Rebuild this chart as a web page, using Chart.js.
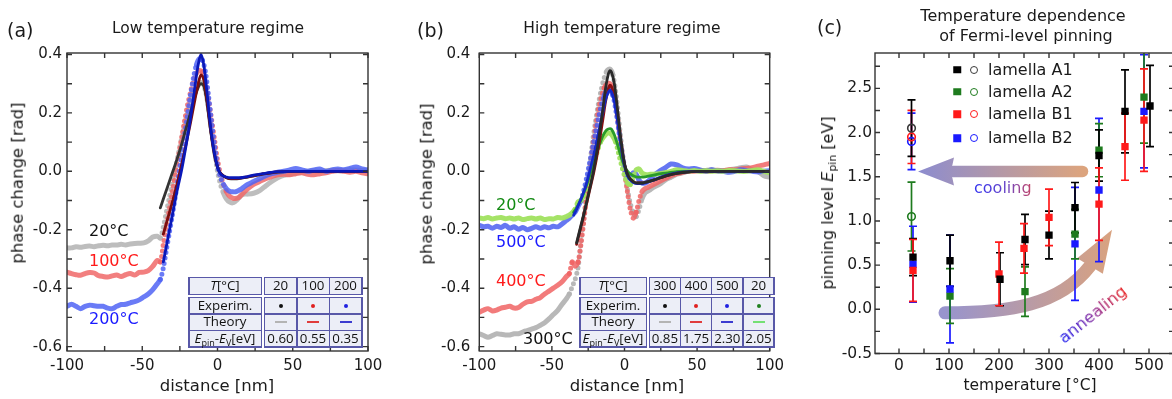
<!DOCTYPE html>
<html><head><meta charset="utf-8">
<script src="https://cdn.jsdelivr.net/npm/chart.js@4.4.1/dist/chart.umd.min.js"></script>
<style>
html,body{margin:0;padding:0;background:#fff;}
body{width:1172px;height:399px;overflow:hidden;position:relative;font-family:'DejaVu Sans',sans-serif;color:#1a1a1a;}
canvas{position:absolute;top:0;}
.t{position:absolute;white-space:nowrap;line-height:1;}
.c{transform:translate(-50%,-50%);}
.l{transform:translateY(-50%);}
.r{transform:translate(-50%,-50%) rotate(-90deg);}
sub{font-size:0.68em;vertical-align:-0.3em;line-height:0;}
.blk{position:absolute;display:grid;gap:1.5px;padding:1.5px;background:#5858a8;box-sizing:border-box;font-family:'Open Sans',sans-serif;font-size:13.3px;color:#111;}
.blk>div{background:#eceef7;display:flex;align-items:center;justify-content:center;line-height:1;white-space:nowrap;}
.dot{display:block;width:4px;height:4px;border-radius:50%;}
.dash{display:block;width:12px;height:2.5px;}
.sq{position:absolute;width:7.5px;height:7.5px;transform:translate(-50%,-50%);}
.ci{position:absolute;width:6px;height:6px;border:1.6px solid;border-radius:50%;transform:translate(-50%,-50%);}
</style></head>
<body>
<canvas id="cA" width="390" height="399" style="left:0px"></canvas>
<canvas id="cB" width="400" height="399" style="left:390px"></canvas>
<canvas id="cC" width="390" height="399" style="left:790px"></canvas>

<div class="t l" style="left:7px;top:30px;font-size:19px">(a)</div>
<div class="t c" style="left:208px;top:29px;font-size:15.5px">Low temperature regime</div>
<div class="t r" style="left:18px;top:183px;font-size:16.5px">phase change [rad]</div>
<div class="t c" style="left:217px;top:386px;font-size:16.5px">distance [nm]</div>

<div class="t l" style="left:417px;top:30px;font-size:19px">(b)</div>
<div class="t c" style="left:622px;top:29px;font-size:15.5px">High temperature regime</div>
<div class="t r" style="left:427px;top:184px;font-size:16.5px">phase change [rad]</div>
<div class="t c" style="left:627px;top:386px;font-size:16.5px">distance [nm]</div>

<div class="t l" style="left:817px;top:27px;font-size:19px">(c)</div>
<div class="t c" style="left:1023px;top:16px;font-size:16px">Temperature dependence</div>
<div class="t c" style="left:1026px;top:36px;font-size:16px">of Fermi-level pinning</div>
<div class="t r" style="left:828px;top:203px;font-size:16px">pinning level <i>E</i><sub>pin</sub> [eV]</div>
<div class="t c" style="left:1030px;top:386px;font-size:15.5px">temperature [°C]</div>

<div class="t l" style="left:89px;top:231px;font-size:16px;color:#111">20°C</div>
<div class="t l" style="left:89px;top:261px;font-size:16px;color:#ff1a1a">100°C</div>
<div class="t l" style="left:89px;top:319px;font-size:16px;color:#1a1aff">200°C</div>

<div class="t l" style="left:496px;top:205px;font-size:16px;color:#128a12">20°C</div>
<div class="t l" style="left:496px;top:242px;font-size:16px;color:#1a1aff">500°C</div>
<div class="t l" style="left:496px;top:281px;font-size:16px;color:#ff1a1a">400°C</div>
<div class="t l" style="left:523px;top:339px;font-size:16px;color:#111">300°C</div>

<div class="t l" style="left:974px;top:188px;font-size:16px;background:linear-gradient(90deg,#3030f0 0%,#6a48c8 55%,#c44466 100%);-webkit-background-clip:text;background-clip:text;color:transparent;">cooling</div>
<div class="t c" style="left:1093px;top:315px;font-size:16.5px;transform:translate(-50%,-50%) rotate(-38.5deg);background:linear-gradient(90deg,#2020f0,#8a30a0 50%,#e82020);-webkit-background-clip:text;background-clip:text;color:transparent;">annealing</div>

<script>
// ---------------- Panel (a) / (b) data ----------------
const xTicksAB = [-100, -50, 0, 50, 100];
const xMarksAB = [-100, -75, -50, -25, 0, 25, 50, 75, 100];
const yTicksAB = [-0.6, -0.4, -0.2, 0.0, 0.2, 0.4];
const yMarksAB = [-0.6, -0.5, -0.4, -0.3, -0.2, -0.1, 0, 0.1, 0.2, 0.3, 0.4];

// experimental x grid (nm)
const xe = [-100,-97,-94,-91,-88,-85,-82,-79,-76,-73,-70,-67,-64,-61,-58,-55,-52,-49,-46,-43,-40,
  -38,-36,-34,-32,-30,-28,-26,-24,-22,-20,-18,-16,-14,-12,-10,-8,-6,-4,-2,0,2,4,6,8,10,12,14,16,18,20,
  24,28,32,36,40,44,48,52,56,60,64,68,72,76,80,84,88,92,96,100];

// (a) experiment
const expA20 = [-0.262,-0.262,-0.258,-0.260,-0.257,-0.256,-0.258,-0.255,-0.253,-0.255,-0.252,-0.252,-0.250,-0.252,-0.249,-0.247,-0.246,-0.245,-0.238,-0.225,-0.222,
  -0.228,-0.19,-0.14,-0.09,-0.04,0.01,0.06,0.11,0.155,0.20,0.24,0.27,0.29,0.305,0.30,0.275,0.215,0.14,0.07,0.0,-0.045,-0.075,-0.095,-0.105,-0.108,-0.102,-0.092,-0.082,-0.078,-0.078,
  -0.075,-0.066,-0.05,-0.035,-0.022,-0.014,-0.01,-0.006,-0.003,0.0,0.002,0.0,0.002,0.004,0.002,0.003,0.005,0.004,0.003,0.002];
const expA100 = [-0.345,-0.350,-0.354,-0.356,-0.350,-0.346,-0.348,-0.357,-0.360,-0.362,-0.358,-0.355,-0.360,-0.354,-0.350,-0.355,-0.346,-0.345,-0.340,-0.325,-0.305,
  -0.31,-0.25,-0.19,-0.13,-0.07,-0.01,0.05,0.11,0.17,0.225,0.27,0.31,0.335,0.345,0.34,0.31,0.25,0.18,0.11,0.04,-0.01,-0.045,-0.07,-0.085,-0.092,-0.093,-0.09,-0.08,-0.07,-0.06,
  -0.045,-0.035,-0.025,-0.018,-0.012,-0.01,-0.012,-0.008,-0.005,-0.01,-0.012,-0.008,-0.005,0.0,0.003,0.0,-0.003,0.0,-0.005,-0.008];
const expA200 = [-0.462,-0.455,-0.462,-0.470,-0.462,-0.458,-0.460,-0.462,-0.462,-0.468,-0.470,-0.462,-0.456,-0.455,-0.450,-0.446,-0.440,-0.430,-0.420,-0.405,-0.385,
  -0.37,-0.33,-0.27,-0.21,-0.15,-0.085,-0.02,0.05,0.12,0.19,0.26,0.32,0.365,0.385,0.38,0.34,0.26,0.17,0.09,0.02,-0.02,-0.045,-0.06,-0.068,-0.07,-0.07,-0.066,-0.06,-0.052,-0.045,
  -0.035,-0.025,-0.015,-0.008,-0.003,0.0,0.005,0.01,0.005,0.0,0.005,0.008,0.0,0.005,0.008,0.005,0.01,0.015,0.008,0.005];

// (a) theory
const xtA = [-38,-36,-33,-30,-27,-24,-21,-18,-15,-13,-11,-9,-7,-5,-3,-1,1,3,6,9,12,15,20,25,30,35,40,50,60,70,80,90,100];
const thA20 = [-0.125,-0.095,-0.05,-0.005,0.04,0.09,0.145,0.20,0.255,0.285,0.30,0.29,0.235,0.155,0.085,0.032,0.002,-0.012,-0.022,-0.026,-0.026,-0.024,-0.02,-0.015,-0.01,-0.006,-0.003,0,0,0,0,0,0];
const thA100 = [null,-0.215,-0.16,-0.105,-0.045,0.02,0.09,0.165,0.245,0.295,0.33,0.31,0.245,0.16,0.088,0.034,0.002,-0.012,-0.022,-0.025,-0.025,-0.023,-0.019,-0.014,-0.009,-0.005,-0.002,0,0,0,0,0,0];
const thA200 = [null,-0.31,-0.23,-0.15,-0.07,0.0,0.085,0.18,0.29,0.36,0.40,0.36,0.27,0.17,0.09,0.035,0.0,-0.013,-0.02,-0.022,-0.022,-0.022,-0.018,-0.012,-0.008,-0.004,-0.001,0,0,0,0,0,0];

// (b) experiment
const expB20 = [-0.160,-0.162,-0.158,-0.163,-0.160,-0.158,-0.162,-0.160,-0.163,-0.160,-0.165,-0.162,-0.160,-0.163,-0.160,-0.165,-0.162,-0.163,-0.158,-0.160,-0.155,
  -0.15,-0.142,-0.13,-0.105,-0.10,-0.08,-0.05,-0.02,0.01,0.045,0.08,0.105,0.12,0.13,0.13,0.12,0.10,0.06,0.02,-0.015,-0.04,-0.045,-0.02,0.005,0.008,-0.005,-0.01,-0.012,-0.01,-0.01,
  -0.008,-0.005,0.0,0.005,0.003,0.0,0.003,0.0,0.002,0.0,0.002,0.0,0.003,0.002,0.0,0.0,0.003,0.005,0.0,-0.005];
const expB500 = [-0.185,-0.190,-0.188,-0.195,-0.188,-0.192,-0.185,-0.195,-0.190,-0.198,-0.192,-0.200,-0.195,-0.190,-0.195,-0.190,-0.193,-0.188,-0.190,-0.180,-0.168,
  -0.16,-0.15,-0.14,-0.12,-0.10,-0.065,-0.02,0.03,0.08,0.13,0.18,0.225,0.26,0.28,0.28,0.26,0.21,0.14,0.07,0.01,-0.02,-0.02,-0.005,-0.01,-0.03,-0.04,-0.04,-0.035,-0.025,-0.015,
  0.0,0.012,0.025,0.022,0.012,0.008,0.01,0.005,0.0,0.005,0.002,0.0,-0.003,0.0,0.005,0.003,0.0,-0.002,0.0,0.002];
const expB400 = [-0.482,-0.475,-0.470,-0.478,-0.475,-0.468,-0.465,-0.462,-0.468,-0.466,-0.455,-0.447,-0.445,-0.438,-0.432,-0.420,-0.410,-0.400,-0.390,-0.378,-0.360,
  -0.35,-0.31,-0.325,-0.31,-0.25,-0.17,-0.08,0.0,0.08,0.15,0.21,0.255,0.285,0.30,0.30,0.285,0.23,0.15,0.07,0.0,-0.07,-0.13,-0.16,-0.14,-0.10,-0.07,-0.06,-0.055,-0.05,-0.045,
  -0.035,-0.025,-0.015,-0.008,-0.003,0.0,0.0,0.003,0.0,0.002,0.004,0.002,0.005,0.005,0.008,0.01,0.012,0.018,0.022,0.027];
const expB300 = [-0.556,-0.562,-0.568,-0.562,-0.556,-0.558,-0.560,-0.560,-0.556,-0.556,-0.550,-0.545,-0.540,-0.535,-0.527,-0.518,-0.505,-0.490,-0.476,-0.455,-0.436,
  -0.42,-0.395,-0.37,-0.33,-0.24,-0.16,-0.07,0.02,0.10,0.17,0.23,0.28,0.32,0.345,0.35,0.33,0.27,0.18,0.09,0.01,-0.06,-0.11,-0.14,-0.155,-0.13,-0.095,-0.075,-0.068,-0.062,-0.055,
  -0.045,-0.03,-0.02,-0.01,-0.005,0.0,0.003,0.0,0.003,0.005,0.0,0.002,0.005,0.008,0.012,0.015,0.005,0.0,-0.015,-0.02];

// (b) theory
const xtB = [-35,-33,-30,-27,-24,-21,-18,-15,-13,-11,-10,-9,-7,-5,-3,-1,1,3,6,9,12,15,20,25,30,35,40,50,60,70,80,90,100];
const thB300 = [null,-0.245,-0.185,-0.125,-0.06,0.01,0.10,0.21,0.285,0.335,0.345,0.34,0.30,0.22,0.13,0.055,0.005,-0.02,-0.035,-0.04,-0.04,-0.037,-0.03,-0.022,-0.014,-0.008,-0.004,0,0,0,0,0,0];
const thB400 = [null,-0.25,-0.19,-0.13,-0.065,0.0,0.08,0.175,0.24,0.285,0.295,0.29,0.255,0.19,0.115,0.05,0.005,-0.02,-0.035,-0.04,-0.04,-0.037,-0.03,-0.022,-0.014,-0.008,-0.004,0,0,0,0,0,0];
const thB500 = [-0.15,-0.13,-0.095,-0.055,0.0,0.06,0.13,0.20,0.245,0.272,0.278,0.272,0.24,0.18,0.11,0.045,0.0,-0.025,-0.038,-0.042,-0.042,-0.038,-0.03,-0.02,-0.012,-0.006,-0.003,0,0,0,0,0,0];
const thB20 = [-0.14,-0.125,-0.097,-0.06,-0.015,0.035,0.08,0.12,0.138,0.145,0.146,0.144,0.125,0.095,0.06,0.03,0.008,-0.005,-0.015,-0.02,-0.02,-0.018,-0.013,-0.008,-0.005,-0.002,0,0,0,0,0,0,0];

// tables
const tabTempsA = ['20', '100', '200'];
const tabEpinA = ['0.60', '0.55', '0.35'];
const tabTempsB = ['300', '400', '500', '20'];
const tabEpinB = ['0.85', '1.75', '2.30', '2.05'];

// ---------------- Panel (c) data ----------------
const xTicksC = [0, 100, 200, 300, 400, 500];
const xMarksC = [0, 50, 100, 150, 200, 250, 300, 350, 400, 450, 500];
const yTicksC = [-0.5, 0.0, 0.5, 1.0, 1.5, 2.0, 2.5];
const yMarksC = [-0.5, -0.25, 0, 0.25, 0.5, 0.75, 1.0, 1.25, 1.5, 1.75, 2.0, 2.25, 2.5, 2.75];

const tempA1 = [28, 102, 202, 252, 300, 352, 400, 452, 502];
const epinA1 = [0.59, 0.55, 0.34, 0.79, 0.84, 1.15, 1.74, 2.24, 2.30];
const errA1  = [0.21, 0.29, 0.30, 0.285, 0.27, 0.285, 0.29, 0.47, 0.46];
const tempA2 = [102, 252, 352, 400, 490];
const epinA2 = [0.15, 0.20, 0.85, 1.80, 2.40];
const errA2  = [0.31, 0.28, 0.28, 0.30, 0.52];
const tempB1 = [28, 200, 250, 300, 400, 452, 490];
const epinB1 = [0.44, 0.40, 0.69, 1.04, 1.19, 1.84, 2.14];
const errB1  = [0.35, 0.36, 0.28, 0.32, 0.41, 0.38, 0.58];
const tempB2 = [28, 102, 352, 400, 490];
const epinB2 = [0.51, 0.23, 0.74, 1.35, 2.24];
const errB2  = [0.43, 0.61, 0.64, 0.81, 0.64];
// after cooling (open circles)
const tempCool = [25];
const coolA1 = [2.05], coolErrA1 = [0.32];
const coolA2 = [1.05], coolErrA2 = [0.39];
const coolB1 = [1.95], coolErrB1 = [0.30];
const coolB2 = [1.90], coolErrB2 = [0.32];

const legendLabels = ['lamella A1', 'lamella A2', 'lamella B1', 'lamella B2'];

// decorative arrows (data units)
const coolArrow = [[367, 1.56], [38, 1.56]];
const annealArrow = [[92, -0.04], [222, -0.04], [322, 0.05], [382, 0.49], [426, 0.90]];

// ---------------- helpers ----------------
Chart.defaults.font.family = "'DejaVu Sans', sans-serif";
Chart.defaults.color = '#1a1a1a';

const pts = (xs, ys) => xs.map((x, i) => ({x, y: ys[i]}));
const steepDash = ctx => {
  const dx = Math.abs(ctx.p1.x - ctx.p0.x), dy = Math.abs(ctx.p1.y - ctx.p0.y);
  return dy > 2.2 * dx ? [0, 5.5] : undefined;
};
const expSet = (xs, ys, color, order) => ({
  data: pts(xs, ys), showLine: true, borderColor: color, borderWidth: 5, pointRadius: 0,
  tension: 0.3, borderCapStyle: 'round', borderJoinStyle: 'round', order,
  segment: {borderDash: steepDash}
});
const thSet = (xs, ys, color, order) => ({
  data: pts(xs, ys), showLine: true, borderColor: color, borderWidth: 2.8, pointRadius: 0,
  cubicInterpolationMode: 'monotone', borderCapStyle: 'round', order
});
function makeFrame(xMarks, yMarks) {
  return {
    id: 'frame',
    afterDatasetsDraw(chart) {
      const {ctx, chartArea: a, scales: {x, y}} = chart;
      ctx.save();
      ctx.strokeStyle = '#333'; ctx.lineWidth = 1.4;
      ctx.strokeRect(a.left, a.top, a.right - a.left, a.bottom - a.top);
      const L = 5;
      ctx.beginPath();
      xMarks.forEach(v => { const p = x.getPixelForValue(v);
        ctx.moveTo(p, a.bottom); ctx.lineTo(p, a.bottom - L);
        ctx.moveTo(p, a.top); ctx.lineTo(p, a.top + L); });
      yMarks.forEach(v => { const p = y.getPixelForValue(v);
        ctx.moveTo(a.left, p); ctx.lineTo(a.left + L, p);
        ctx.moveTo(a.right, p); ctx.lineTo(a.right - L, p); });
      ctx.stroke();
      ctx.restore();
    }
  };
}
function baseOptions(o) {
  return {
    responsive: false, animation: false, devicePixelRatio: 1,
    layout: {padding: {top: o.top, right: o.right, bottom: 0, left: 0}},
    plugins: {legend: {display: false}, tooltip: {enabled: false}},
    scales: {
      x: {type: 'linear', min: o.xmin, max: o.xmax,
        grid: {display: false, drawTicks: false}, border: {display: false},
        ticks: {font: {size: o.fs}, color: '#1a1a1a', padding: o.xpad, maxRotation: 0, callback: v => String(v)},
        afterBuildTicks: s => { s.ticks = o.xTicks.map(v => ({value: v})); },
        afterFit: s => { s.height = o.xh; }},
      y: {type: 'linear', min: o.ymin, max: o.ymax,
        grid: {display: false, drawTicks: false}, border: {display: false},
        ticks: {font: {size: o.fs}, color: '#1a1a1a', padding: o.ypad, callback: v => Number(v).toFixed(1)},
        afterBuildTicks: s => { s.ticks = o.yTicks.map(v => ({value: v})); },
        afterFit: s => { s.width = o.yw; }}
    }
  };
}

// ---------------- Chart (a) ----------------
new Chart(document.getElementById('cA'), {
  type: 'scatter',
  data: {datasets: [
    thSet(xtA, thA200, '#0a18b8', 0),
    thSet(xtA, thA100, '#7a0e0e', 1),
    thSet(xtA, thA20, '#333333', 2),
    expSet(xe, expA200, 'rgba(80,100,245,0.85)', 3),
    expSet(xe, expA100, 'rgba(240,105,105,0.85)', 4),
    expSet(xe, expA20, 'rgba(185,185,185,0.95)', 5)
  ]},
  options: baseOptions({top: 53, right: 22, xmin: -100, xmax: 100, ymin: -0.615, ymax: 0.405,
    fs: 15, xpad: 6, ypad: 5, xh: 48, yw: 67, xTicks: xTicksAB, yTicks: yTicksAB}),
  plugins: [makeFrame(xMarksAB, yMarksAB)]
});

// ---------------- Chart (b) ----------------
new Chart(document.getElementById('cB'), {
  type: 'scatter',
  data: {datasets: [
    thSet(xtB, thB300, '#2a2a2a', 0),
    thSet(xtB, thB500, '#1428c8', 1),
    thSet(xtB, thB400, '#8a1010', 2),
    thSet(xtB, thB20, '#2a9a2a', 3),
    expSet(xe, expB20, 'rgba(160,225,95,0.95)', 4),
    expSet(xe, expB500, 'rgba(75,95,240,0.85)', 5),
    expSet(xe, expB400, 'rgba(240,100,100,0.85)', 6),
    expSet(xe, expB300, 'rgba(180,180,180,0.95)', 7)
  ]},
  options: baseOptions({top: 53, right: 9.3, xmin: -100, xmax: 100, ymin: -0.615, ymax: 0.405,
    fs: 15, xpad: 6, ypad: 9, xh: 48, yw: 89.3, xTicks: xTicksAB, yTicks: yTicksAB}),
  plugins: [makeFrame(xMarksAB, yMarksAB)]
});

// ---------------- Chart (c) ----------------
const COL = {A1: '#000000', A2: '#1e7b1e', B1: '#ff1a1a', B2: '#1a1aff', A1c: '#3a3a3a'};
const errSets = [
  {t: tempCool, e: coolA2, err: coolErrA2, color: COL.A2},
  {t: tempCool, e: coolB2, err: coolErrB2, color: COL.B2},
  {t: tempCool, e: coolB1, err: coolErrB1, color: COL.B1},
  {t: tempCool, e: coolA1, err: coolErrA1, color: COL.A1},
  {t: tempB2, e: epinB2, err: errB2, color: COL.B2},
  {t: tempA2, e: epinA2, err: errA2, color: COL.A2},
  {t: tempA1, e: epinA1, err: errA1, color: COL.A1},
  {t: tempB1, e: epinB1, err: errB1, color: COL.B1}
];
const decoPlugin = {
  id: 'deco',
  beforeDatasetsDraw(chart) {
    const {ctx, chartArea: a, scales: {x, y}} = chart;
    const P = d => [x.getPixelForValue(d[0]), y.getPixelForValue(d[1])];
    ctx.save();
    ctx.beginPath(); ctx.rect(a.left, a.top, a.right - a.left, a.bottom - a.top); ctx.clip();
    // cooling arrow
    const tail = P(coolArrow[0]), tip = P(coolArrow[1]);
    let g = ctx.createLinearGradient(tip[0], 0, tail[0], 0);
    g.addColorStop(0, '#8c8ccf'); g.addColorStop(1, '#dca47e');
    ctx.strokeStyle = g; ctx.fillStyle = g;
    const baseX = tip[0] + 33;
    ctx.lineWidth = 11.5; ctx.lineCap = 'round';
    ctx.beginPath(); ctx.moveTo(tail[0], tail[1]); ctx.lineTo(baseX + 2, tip[1]); ctx.stroke();
    ctx.beginPath(); ctx.moveTo(tip[0], tip[1]); ctx.lineTo(baseX + 3, tip[1] - 14);
    ctx.lineTo(baseX, tip[1]); ctx.lineTo(baseX + 3, tip[1] + 14); ctx.closePath(); ctx.fill();
    // annealing arrow
    const q = annealArrow.map(P);
    g = ctx.createLinearGradient(q[0][0], 0, q[4][0], 0);
    g.addColorStop(0, '#9894cd'); g.addColorStop(1, '#d9a27f');
    ctx.strokeStyle = g; ctx.fillStyle = g; ctx.lineWidth = 13;
    ctx.beginPath(); ctx.moveTo(q[0][0], q[0][1]);
    ctx.bezierCurveTo(q[1][0], q[1][1], q[2][0], q[2][1], q[3][0], q[3][1]); ctx.stroke();
    let dx = q[4][0] - q[3][0], dy = q[4][1] - q[3][1]; const n = Math.hypot(dx, dy); dx /= n; dy /= n;
    const px = -dy, py = dx, hw = 15;
    ctx.beginPath(); ctx.moveTo(q[4][0], q[4][1]);
    ctx.lineTo(q[3][0] + px * hw, q[3][1] + py * hw);
    ctx.lineTo(q[3][0] - px * hw, q[3][1] - py * hw); ctx.closePath(); ctx.fill();
    // error bars
    ctx.lineWidth = 1.7; ctx.lineCap = 'butt';
    errSets.forEach(s => {
      ctx.strokeStyle = s.color;
      s.t.forEach((t, i) => {
        const xp = x.getPixelForValue(t);
        const y1 = y.getPixelForValue(s.e[i] + s.err[i]), y2 = y.getPixelForValue(s.e[i] - s.err[i]);
        ctx.beginPath();
        ctx.moveTo(xp, y1); ctx.lineTo(xp, y2);
        ctx.moveTo(xp - 4, y1); ctx.lineTo(xp + 4, y1);
        ctx.moveTo(xp - 4, y2); ctx.lineTo(xp + 4, y2);
        ctx.stroke();
      });
    });
    ctx.restore();
  }
};
const sqSet = (t, e, c, order) => ({data: pts(t, e), pointStyle: 'rect', pointRadius: 5.2, pointBackgroundColor: c, pointBorderWidth: 0, order});
const ciSet = (t, e, c, order) => ({data: pts(t, e), pointStyle: 'circle', pointRadius: 3.8, pointBackgroundColor: 'rgba(255,255,255,0)', pointBorderColor: c, pointBorderWidth: 1.6, order});
const optC = baseOptions({top: 53, right: 6, xmin: -48, xmax: 550, ymin: -0.5, ymax: 2.9,
  fs: 15.5, xpad: 3, ypad: 3, xh: 45.5, yw: 85, xTicks: xTicksC, yTicks: yTicksC});
optC.scales.x.ticks.callback = v => String(v);
new Chart(document.getElementById('cC'), {
  type: 'scatter',
  data: {datasets: [
    sqSet(tempA1, epinA1, COL.A1, 1),
    sqSet(tempB1, epinB1, COL.B1, 2),
    sqSet(tempB2, epinB2, COL.B2, 3),
    sqSet(tempA2, epinA2, COL.A2, 4),
    ciSet(tempCool, coolA1, COL.A1c, 5),
    ciSet(tempCool, coolB1, COL.B1, 6),
    ciSet(tempCool, coolB2, COL.B2, 7),
    ciSet(tempCool, coolA2, COL.A2, 8)
  ]},
  options: optC,
  plugins: [decoPlugin, makeFrame(xMarksC, yMarksC)]
});

// ---------------- legend (c) ----------------
const legSq = [COL.A1, COL.A2, COL.B1, COL.B2];
const legCi = [COL.A1c, COL.A2, COL.B1, COL.B2];
const legY = [69.7, 91.9, 114.4, 138];
legendLabels.forEach((lab, i) => {
  const s = document.createElement('div'); s.className = 'sq';
  s.style.cssText = `left:957px;top:${legY[i]}px;background:${legSq[i]}`; document.body.appendChild(s);
  const c = document.createElement('div'); c.className = 'ci';
  c.style.cssText = `left:974px;top:${legY[i]}px;border-color:${legCi[i]}`; document.body.appendChild(c);
  const t = document.createElement('div'); t.className = 't l';
  t.style.cssText = `left:988px;top:${legY[i]}px;font-size:16px`; t.textContent = lab; document.body.appendChild(t);
});

// ---------------- tables (a),(b) ----------------
function buildTable(left, top, w0, wc, temps, expCols, thCols, epins) {
  const h0 = 18.5, hr = 17, gap = 1.5, n = temps.length;
  const blk = (l, t, w, h, cols, rows, cells) => {
    const d = document.createElement('div'); d.className = 'blk';
    d.style.cssText = `left:${l}px;top:${t}px;width:${w}px;height:${h}px;grid-template-columns:repeat(${cols},1fr);grid-template-rows:repeat(${rows},1fr);`;
    cells.forEach(c => { const e = document.createElement('div'); e.innerHTML = c; d.appendChild(e); });
    document.body.appendChild(d);
  };
  blk(left, top, w0, h0, 1, 1, ['<span><i>T</i>[°C]</span>']);
  blk(left + w0 + gap, top, n * wc, h0, n, 1, temps);
  blk(left, top + h0 + gap, w0, 3 * hr, 1, 3, ['Experim.', 'Theory', '<span><i>E</i><sub>pin</sub>-<i>E</i><sub>V</sub>[eV]</span>']);
  const cells = [
    ...expCols.map(c => `<span class="dot" style="background:${c}"></span>`),
    ...thCols.map(c => `<span class="dash" style="background:${c}"></span>`),
    ...epins];
  blk(left + w0 + gap, top + h0 + gap, n * wc, 3 * hr, n, 3, cells);
}
buildTable(188, 276.5, 74, 33, tabTempsA, ['#111', '#e02020', '#2020e0'], ['#b4b4b4', '#e03c3c', '#3c3cd0'], tabEpinA);
buildTable(579, 276.5, 68, 31.6, tabTempsB, ['#111', '#e02020', '#2020e0', '#208020'], ['#b4b4b4', '#e03c3c', '#3c3cd0', '#74e074'], tabEpinB);
</script>
</body></html>
